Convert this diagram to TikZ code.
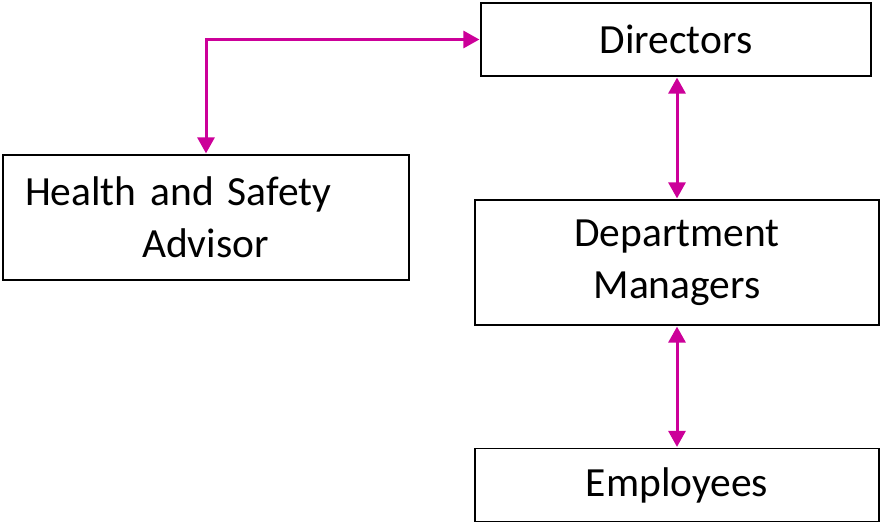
\documentclass[tikz,border=0pt]{standalone}
\usepackage{fontspec}
\setmainfont{Carlito}
\usetikzlibrary{arrows.meta}
\definecolor{linkpink}{RGB}{204,0,153}
\begin{document}
\begin{tikzpicture}[x=1pt,y=-1pt,
    box/.style={draw, line width=1.6pt, inner sep=0pt, align=center,
                font=\fontsize{41.5}{52}\selectfont},
    link/.style={draw=linkpink, line width=3pt,
                 {Triangle[width=17pt,length=16pt]}-{Triangle[width=17pt,length=16pt]}, shorten <=0.8pt, shorten >=0.8pt}]
    \useasboundingbox (0,0) rectangle (880,522);
    \node[box, minimum width=390, minimum height=73] (dir) at (676,39.5) {Directors};
    \node[box, minimum width=404, minimum height=125] (dm) at (677,262.5) {Department\\Managers};
    \node[box, minimum width=404, minimum height=73] (emp) at (677,485) {Employees};
    \node[box, minimum width=406, minimum height=125, text width=362, align=left, inner xsep=22]
        (hs) at (206,217.5) {Health and Safety\\\hspace*{117pt}Advisor};
    \draw[link] (hs.north) |- (dir.west);
    \draw[link] (dir.south -| dm.north) -- (dm.north);
    \draw[link] (dm.south) -- (emp.north);
\end{tikzpicture}
\end{document}
